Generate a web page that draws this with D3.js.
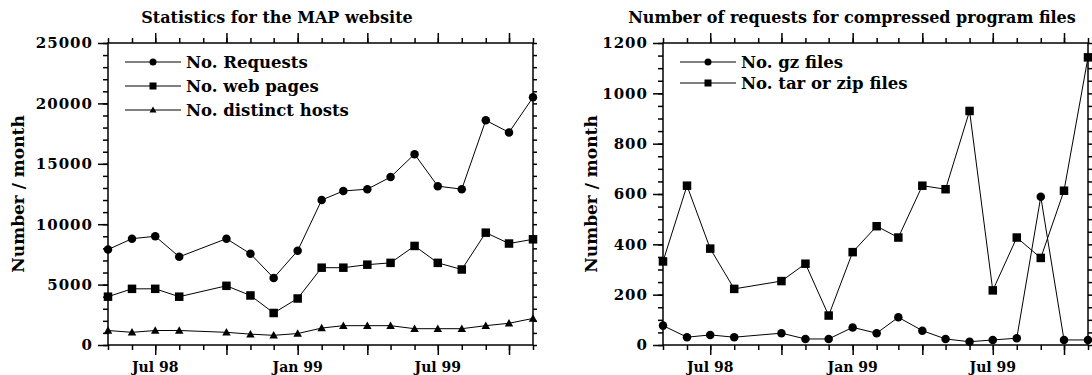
<!DOCTYPE html>
<html lang="en">
<head>
	<meta charset="UTF-8">
	<title>MAP website statistics</title>
	<script src="https://cdn.jsdelivr.net/npm/d3@7"></script>
	<style type="text/css">
		body { margin: 0; background: #fff; }
		text { font-family: "DejaVu Serif", "Liberation Serif", serif; font-weight: bold; fill: #000; }
	</style>
</head>
<body>
	<script type="text/javascript">
		// months with data (no point for Sep 98)
		var months = ['1998-05','1998-06','1998-07','1998-08','1998-10','1998-11','1998-12',
					  '1999-01','1999-02','1999-03','1999-04','1999-05','1999-06','1999-07',
					  '1999-08','1999-09','1999-10','1999-11'];

		var requests = [7900,8800,9000,7300,8800,7550,5550,7800,12000,12750,12900,13900,15800,13150,12900,18600,17600,20500];
		var webPages = [4000,4650,4650,4000,4900,4100,2650,3850,6400,6400,6650,6800,8200,6800,6250,9300,8400,8750];
		var hosts = [1200,1050,1200,1200,1050,900,800,950,1400,1600,1600,1600,1350,1350,1350,1600,1800,2200];

		var gzFiles = [77,31,40,31,47,24,24,70,47,110,57,24,13,20,27,589,20,20];
		var tarZipFiles = [332,633,383,223,254,323,117,369,472,427,633,619,930,217,427,346,613,1143];

		var parse = d3.timeParse('%Y-%m');
		var dates = months.map(parse);

		var W = 1092, H = 375;
		var svg = d3.select('body').append('svg')
					.attr('width', W)
					.attr('height', H);

		function marker(g, type, x, y, s) {
			if (type == 'circle') {
				g.append('circle').attr('cx', x).attr('cy', y).attr('r', s / 2);
			} else if (type == 'square') {
				g.append('rect').attr('x', x - s / 2).attr('y', y - s / 2).attr('width', s).attr('height', s);
			} else {
				g.append('path').attr('d', 'M' + x + ',' + (y - s / 2) + 'L' + (x + s / 2) + ',' + (y + s / 2 - 1) + 'L' + (x - s / 2) + ',' + (y + s / 2 - 1) + 'Z');
			}
		}

		function panel(p) {
			var g = svg.append('g');
			var x = d3.scaleTime()
					  .domain([parse('1998-05'), parse('1999-11')])
					  .range([p.left, p.right]);
			var y = d3.scaleLinear()
					  .domain([0, p.max])
					  .range([p.bottom, p.top]);

			var allMonths = d3.timeMonth.range(parse('1998-05'), d3.timeMonth.offset(parse('1999-11'), 1));
			var quarter = allMonths.filter(function (d) { return d.getMonth() % 3 == 0; });

			// month ticks, bottom and top
			[['axisBottom', p.bottom], ['axisTop', p.top]].forEach(function (a) {
				g.append('g').attr('class', 'ax')
				 .attr('transform', 'translate(0,' + a[1] + ')')
				 .call(d3[a[0]](x).tickValues(allMonths).tickSize(5).tickFormat(''));
				g.append('g').attr('class', 'ax')
				 .attr('transform', 'translate(0,' + a[1] + ')')
				 .call(d3[a[0]](x).tickValues(quarter).tickSize(10).tickFormat(''));
			});

			// value ticks, left and right
			var minor = d3.range(0, p.max + 1, p.minor);
			var major = d3.range(0, p.max + 1, p.major);
			g.append('g').attr('class', 'ax')
			 .attr('transform', 'translate(' + p.left + ',0)')
			 .call(d3.axisLeft(y).tickValues(minor).tickSize(5).tickFormat(''));
			g.append('g').attr('class', 'ax')
			 .attr('transform', 'translate(' + p.left + ',0)')
			 .call(d3.axisLeft(y).tickValues(major).tickSize(10).tickPadding(5).tickFormat(d3.format('d')));
			g.append('g').attr('class', 'ax')
			 .attr('transform', 'translate(' + p.right + ',0)')
			 .call(d3.axisRight(y).tickValues(minor).tickSize(4).tickFormat(''));

			g.selectAll('.ax path').remove();
			g.selectAll('.ax line').attr('stroke', '#000').attr('stroke-width', 1.5);
			g.selectAll('.ax text')
			 .attr('font-family', '"DejaVu Serif", serif')
			 .attr('font-weight', 'bold')
			 .attr('font-size', '15px')
			 .attr('letter-spacing', '1px');

			// x labels
			g.append('g').selectAll('text')
			 .data(quarter.filter(function (d) { return d.getMonth() % 6 == 0; }))
			 .enter().append('text')
			 .attr('x', function (d) { return x(d); })
			 .attr('y', p.bottom + 27)
			 .attr('text-anchor', 'middle')
			 .attr('font-size', '14px')
			 .text(d3.timeFormat('%b %y'));

			// frame
			g.append('rect')
			 .attr('x', p.left).attr('y', p.top)
			 .attr('width', p.right - p.left).attr('height', p.bottom - p.top)
			 .attr('fill', 'none').attr('stroke', '#000').attr('stroke-width', 1.5);

			// title and y label
			g.append('text')
			 .attr('x', p.titleX).attr('y', 23)
			 .attr('text-anchor', 'middle')
			 .attr('font-size', '16px')
			 .text(p.title);
			g.append('text')
			 .attr('transform', 'translate(' + p.labelX + ',' + ((p.top + p.bottom) / 2) + ') rotate(-90)')
			 .attr('text-anchor', 'middle')
			 .attr('dy', '0.35em')
			 .attr('font-size', '17px')
			 .text('Number / month');

			// series
			var line = d3.line()
						 .x(function (d) { return x(d[0]); })
						 .y(function (d) { return y(d[1]); });
			p.series.forEach(function (s, k) {
				var pts = d3.zip(dates, s.values);
				g.append('path')
				 .attr('d', line(pts))
				 .attr('fill', 'none')
				 .attr('stroke', '#000')
				 .attr('stroke-width', 1);
				var mg = g.append('g').attr('fill', '#000');
				pts.forEach(function (d) {
					marker(mg, s.marker, x(d[0]), y(d[1]), 8.5);
				});

				// legend row
				var ly = p.legendY + k * p.legendStep;
				g.append('line')
				 .attr('x1', p.legendX).attr('x2', p.legendX + 56)
				 .attr('y1', ly).attr('y2', ly)
				 .attr('stroke', '#000').attr('stroke-width', 1);
				marker(mg, s.marker, p.legendX + 28, ly, 7);
				g.append('text')
				 .attr('x', p.legendX + 61).attr('y', ly)
				 .attr('dy', '0.35em')
				 .attr('font-size', '16.5px')
				 .text(s.name);
			});
		}

		panel({
			left: 108, right: 533, top: 43, bottom: 345,
			max: 25000, major: 5000, minor: 1000,
			title: 'Statistics for the MAP website', titleX: 277, labelX: 18,
			legendX: 125, legendY: 62, legendStep: 24,
			series: [
				{name: 'No. Requests', values: requests, marker: 'circle'},
				{name: 'No. web pages', values: webPages, marker: 'square'},
				{name: 'No. distinct hosts', values: hosts, marker: 'triangle'}
			]
		});

		panel({
			left: 663, right: 1088, top: 43, bottom: 345,
			max: 1200, major: 200, minor: 50,
			title: 'Number of requests for compressed program files', titleX: 852, labelX: 591,
			legendX: 680, legendY: 62, legendStep: 21,
			series: [
				{name: 'No. gz files', values: gzFiles, marker: 'circle'},
				{name: 'No. tar or zip files', values: tarZipFiles, marker: 'square'}
			]
		});
	</script>
</body>
</html>
